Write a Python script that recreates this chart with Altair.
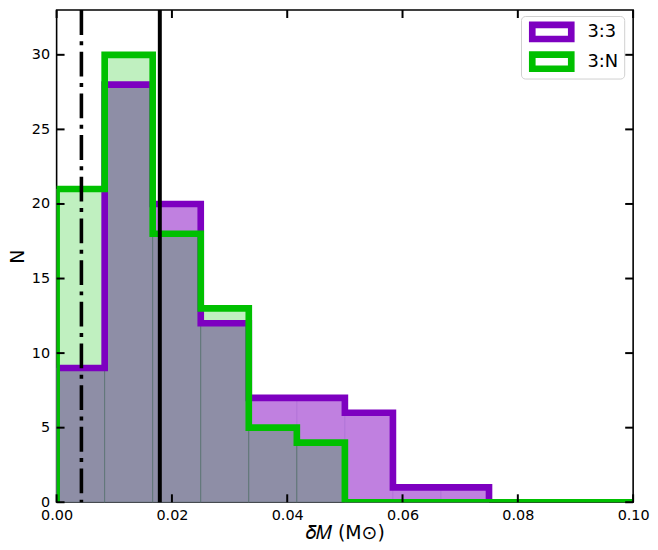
import altair as alt
import pandas as pd

# ---- data ----
bin_edges = [0.0, 1/120, 2/120, 3/120, 4/120, 5/120, 6/120, 7/120, 8/120, 9/120, 10/120, 11/120, 12/120]
counts_33 = [9, 28, 20, 12, 7, 7, 6, 1, 1]                 # 3:3, bins up to 0.075
counts_3N = [21, 30, 18, 13, 5, 4, 0, 0, 0, 0, 0, 0]        # 3:N, bins up to 0.10
series_names = ["3:3", "3:N"]
line_colors = ["#7D00C0", "#00C000"]
fill_colors = ["#C080E0", "#C0F0C0"]
overlap_color = "#8E8EA6"
x_ticks = [0.0, 0.02, 0.04, 0.06, 0.08, 0.10]
y_ticks = [0, 5, 10, 15, 20, 25, 30]
vline_solid = [0.0179]
vline_dashdot = [0.0043]

W, H = 581, 496
FONT = "DejaVu Sans"

def bars(counts):
    return pd.DataFrame({"x0": bin_edges[:len(counts)], "x1": bin_edges[1:len(counts) + 1], "n": counts})

def steps(counts, name):
    xs = [bin_edges[0]] + bin_edges[:len(counts)] + [bin_edges[len(counts)]]
    ys = [0] + list(counts) + [0]
    return pd.DataFrame({"x0": xs, "n": ys, "o": list(range(len(xs))), "s": name})

nmin = min(len(counts_33), len(counts_3N))
overlap = [min(a, b) for a, b in zip(counts_33[:nmin], counts_3N[:nmin])]

xsc = alt.Scale(domain=[0, 0.1], nice=False, zero=False)
ysc = alt.Scale(domain=[0, 33], nice=False)

xax = alt.Axis(values=x_ticks, format=".2f", tickSize=0, labelPadding=6, grid=False, domain=False,
               labelFlush=False, labelOverlap=False,
               title="𝛿𝑀 (M⊙)", titleFontSize=19, titleFont=FONT, titleFontWeight="normal", titlePadding=2,
               labelFontSize=14.5, labelFont=FONT, labelColor="black", titleColor="black")
yax = alt.Axis(values=y_ticks, tickSize=0, labelPadding=7, grid=False, domain=False,
               labelFlush=False, labelOverlap=False,
               title="N", titleFontSize=19, titleFont=FONT, titleFontWeight="normal", titlePadding=4,
               labelFontSize=14.5, labelFont=FONT, labelColor="black", titleColor="black")

X = lambda f: alt.X(f, scale=xsc, axis=xax)
Y = lambda f: alt.Y(f, scale=ysc, axis=yax)

def fill_layer(df, color, stroke):
    return alt.Chart(df).mark_rect(color=color, stroke=stroke, strokeWidth=0.8, clip=True).encode(
        x=X("x0:Q"), x2="x1:Q", y=Y("n:Q"), y2=alt.datum(0),
    )

f33 = fill_layer(bars(counts_33), fill_colors[0], "#B070D8")
f3N = fill_layer(bars(counts_3N), fill_colors[1], "#A8E8A8")
fov = fill_layer(bars(overlap), overlap_color, "#587070")

step_df = pd.concat([steps(counts_33, series_names[0]), steps(counts_3N, series_names[1])])

step_lines = alt.Chart(step_df).mark_line(
    interpolate="step-after", strokeWidth=6.7, strokeJoin="miter", strokeCap="butt", clip=True
).encode(
    x=X("x0:Q"),
    y=Y("n:Q"),
    stroke=alt.Stroke("s:N", scale=alt.Scale(domain=series_names, range=line_colors), legend=None),
    order="o:Q",
    detail="s:N",
)

# legend handle: a thick-bordered rectangle drawn as a filled path with a hole
handle_path = "M-2.3,-1.05H2.3V1.05H-2.3Z M-1.63,-0.38V0.38H1.63V-0.38Z"
legend = alt.Legend(
    title=None, orient="none", legendX=468, legendY=6,
    symbolType=handle_path, symbolSize=400, symbolStrokeWidth=0, symbolOffset=15,
    labelFontSize=18, labelFont=FONT, labelColor="black", labelOffset=26,
    rowPadding=8, padding=6, fillColor="white", strokeColor="#D0D0D0",
    cornerRadius=4, symbolOpacity=1,
)
# tiny hidden carrier for the legend (covered by the bars, sits in the corner)
legend_src = alt.Chart(pd.DataFrame({"series": series_names, "x0": [0.0, 0.0], "n": [0, 0]})).mark_point(
    filled=True, opacity=1, size=1, clip=True
).encode(
    x=X("x0:Q"),
    y=Y("n:Q"),
    fill=alt.Fill("series:N", scale=alt.Scale(domain=series_names, range=line_colors), legend=legend),
)

solid = alt.Chart(pd.DataFrame({"x0": vline_solid})).mark_rule(color="black", strokeWidth=4).encode(
    x=X("x0:Q"))
dashdot = alt.Chart(pd.DataFrame({"x0": vline_dashdot})).mark_rule(
    color="black", strokeWidth=3.6, strokeDash=[25, 6.5, 4, 6.5]).encode(x=X("x0:Q"))

# inward ticks on all four sides
TL = 8
xt = pd.DataFrame({"x0": x_ticks})
yt = pd.DataFrame({"n": y_ticks})
tick_bottom = alt.Chart(xt).mark_rule(color="black", strokeWidth=2).encode(
    x=X("x0:Q"), y=alt.value(H), y2=alt.value(H - TL))
tick_top = alt.Chart(xt).mark_rule(color="black", strokeWidth=2).encode(
    x=X("x0:Q"), y=alt.value(0), y2=alt.value(TL))
tick_left = alt.Chart(yt).mark_rule(color="black", strokeWidth=2).encode(
    y=Y("n:Q"), x=alt.value(0), x2=alt.value(TL))
tick_right = alt.Chart(yt).mark_rule(color="black", strokeWidth=2).encode(
    y=Y("n:Q"), x=alt.value(W), x2=alt.value(W - TL))

chart = alt.layer(
    legend_src, f33, f3N, fov, step_lines, solid, dashdot, tick_bottom, tick_top, tick_left, tick_right
).properties(
    width=W, height=H, padding={"left": 0, "top": -2, "right": 0, "bottom": 0}
).configure(
    background="white"
).configure_view(
    stroke="black", strokeWidth=1.6
)

chart.save("out.html", embed_options={"renderer": "svg", "actions": False})
